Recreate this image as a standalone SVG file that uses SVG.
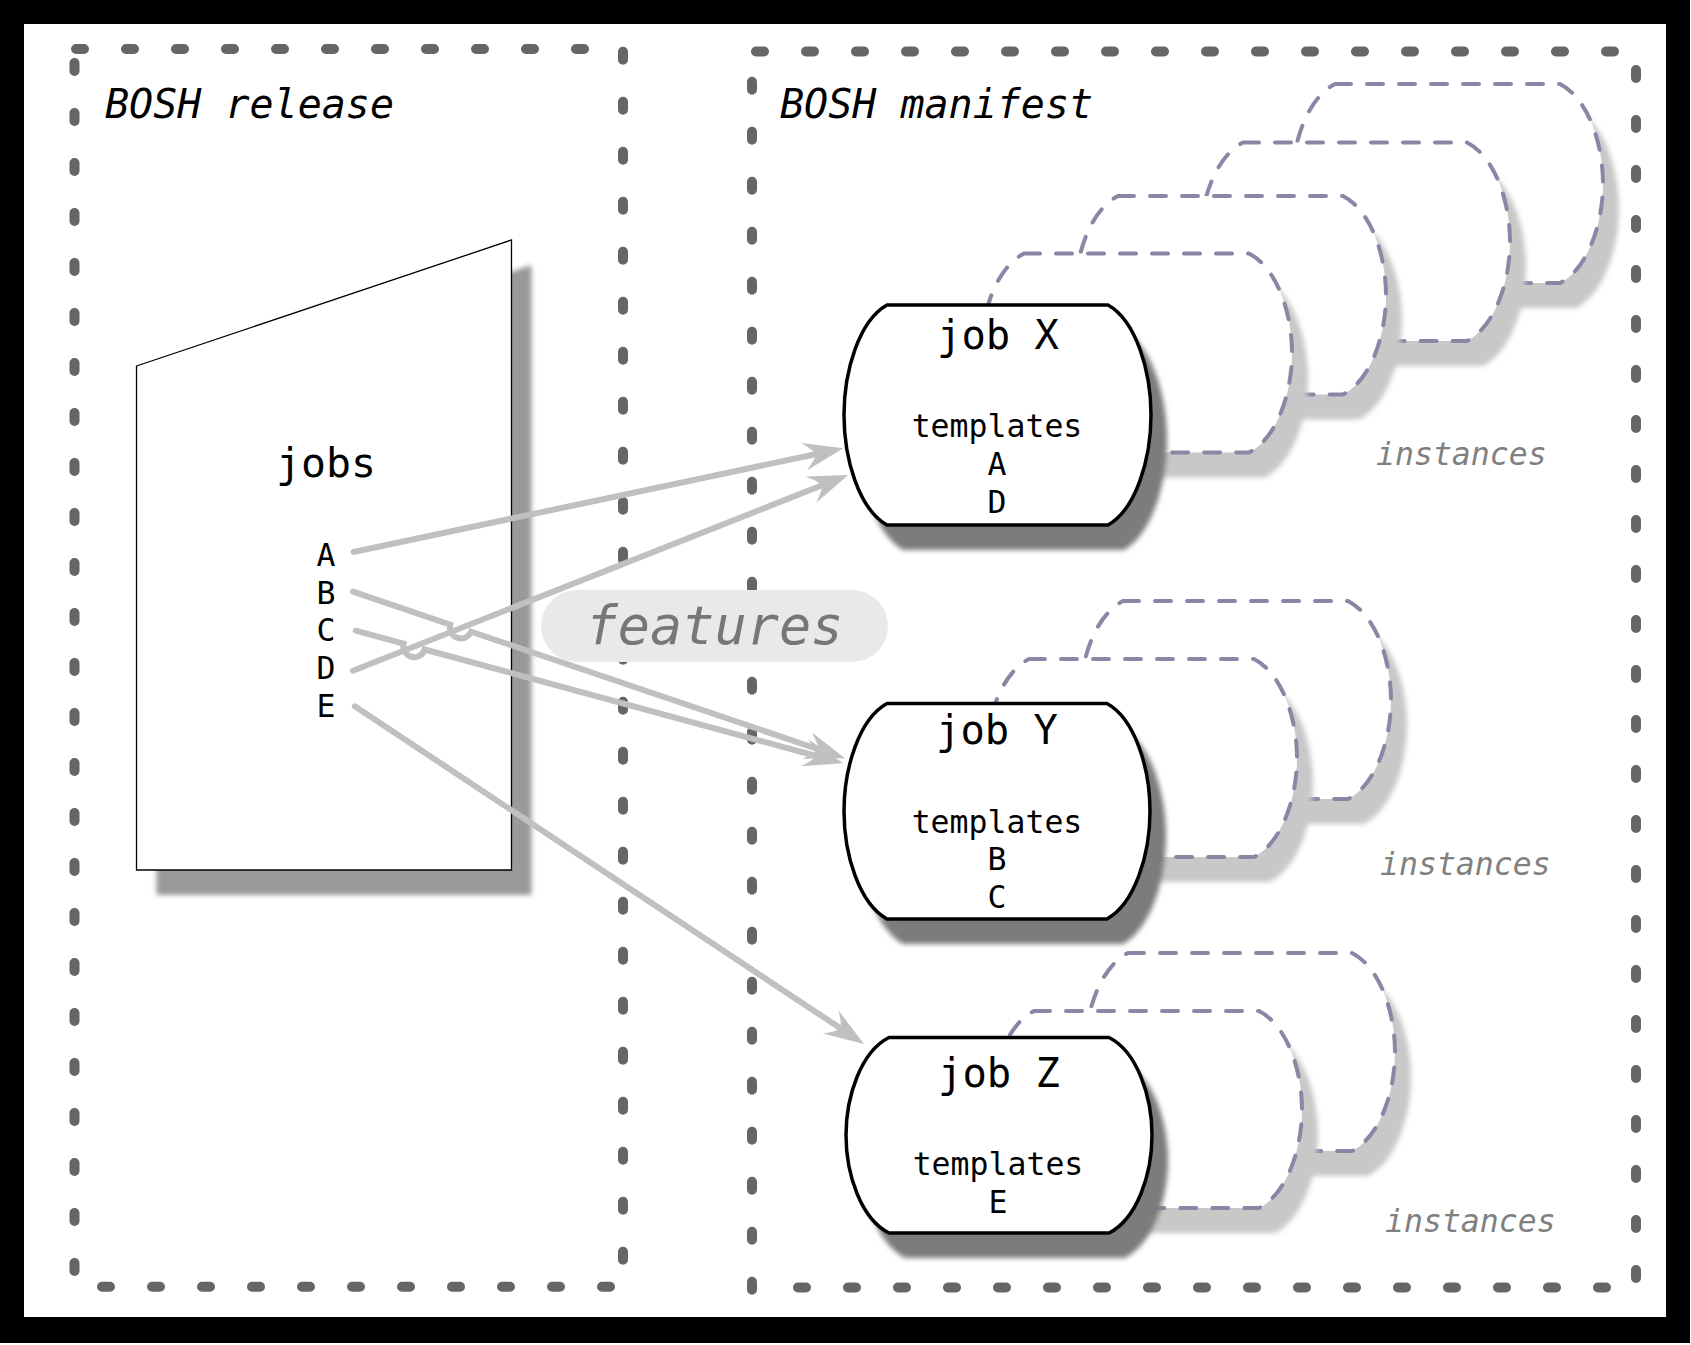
<svg xmlns="http://www.w3.org/2000/svg" xmlns:xlink="http://www.w3.org/1999/xlink" width="1691" height="1345" viewBox="0 0 1691 1345">
<style>
text{font-family:"DejaVu Sans Mono","Liberation Mono",monospace;}
.it{font-style:italic;}
.box{fill:none;stroke:#666666;stroke-width:10;stroke-linecap:round;stroke-dasharray:8 42;}
.inst{fill:#ffffff;stroke:#8888a6;stroke-width:4;stroke-dasharray:16 16;stroke-linecap:round;}
.ishadow{fill:#c8c8c8;filter:url(#blur);}
.jshadow{fill:#7c7c7c;filter:url(#blur);}
.job{fill:#ffffff;stroke:#000000;stroke-width:3.5;}
.jt{font-size:40.5px;text-anchor:middle;fill:#000;}
.tt{font-size:31.5px;text-anchor:middle;fill:#000;}
.lbl{font-size:31.5px;fill:#808080;}
.arrow{fill:none;stroke:#c0c0c0;stroke-width:6;stroke-linecap:round;marker-end:url(#head);}
</style>
<defs>
<filter id="blur" x="-10%" y="-10%" width="120%" height="120%"><feGaussianBlur stdDeviation="2.5"/></filter>
<marker id="head" markerUnits="userSpaceOnUse" viewBox="0 0 40 28" markerWidth="40" markerHeight="28" refX="14" refY="14" orient="auto">
<path d="M40,14 L0,0 Q10,9 12,14 Q10,19 0,28 Z" fill="#c0c0c0"/>
</marker>
<path id="sX" d="M887,305 H1108 C1136,320.8 1151,371 1151,415 C1151,459 1136,509.2 1108,525 H887 C859,509.2 844,459 844,415 C844,371 859,320.8 887,305 Z"/>
<path id="sY" d="M887,703.5 H1107 C1135,719 1150,768.2 1150,811.25 C1150,854.3 1135,903.5 1107,919 H887 C859,903.5 844,854.3 844,811.25 C844,768.2 859,719 887,703.5 Z"/>
<path id="sZ" d="M889,1037.5 H1109 C1137,1051.6 1152,1096.2 1152,1135.25 C1152,1174.3 1137,1218.9 1109,1233 H889 C861,1218.9 846,1174.3 846,1135.25 C846,1096.2 861,1051.6 889,1037.5 Z"/>
<path id="x1" d="M1024,253.5 H1249 C1277,267.8 1292,313.2 1292,353 C1292,392.8 1277,438.2 1249,452.5 H1024 C996,438.2 981,392.8 981,353 C981,313.2 996,267.8 1024,253.5 Z"/>
<path id="x2" d="M1118,196 H1343 C1371,210.3 1386,255.6 1386,295.25 C1386,334.9 1371,380.2 1343,394.5 H1118 C1090,380.2 1075,334.9 1075,295.25 C1075,255.6 1090,210.3 1118,196 Z"/>
<path id="x3" d="M1243,142.5 H1467 C1495,156.8 1510,202.1 1510,241.75 C1510,281.4 1495,326.7 1467,341 H1243 C1215,326.7 1200,281.4 1200,241.75 C1200,202.1 1215,156.8 1243,142.5 Z"/>
<path id="x4" d="M1335,84 H1560 C1588,98.3 1603,143.7 1603,183.5 C1603,223.3 1588,268.7 1560,283 H1335 C1307,268.7 1292,223.3 1292,183.5 C1292,143.7 1307,98.3 1335,84 Z"/>
<path id="y1" d="M1029,659 H1254 C1282,673.3 1297,718.4 1297,758 C1297,797.6 1282,842.7 1254,857 H1029 C1001,842.7 986,797.6 986,758 C986,718.4 1001,673.3 1029,659 Z"/>
<path id="y2" d="M1123,601 H1348 C1376,615.3 1391,660.4 1391,700 C1391,739.6 1376,784.7 1348,799 H1123 C1095,784.7 1080,739.6 1080,700 C1080,660.4 1095,615.3 1123,601 Z"/>
<path id="z1" d="M1034,1011 H1259 C1287,1025.2 1302,1070.1 1302,1109.5 C1302,1148.9 1287,1193.8 1259,1208 H1034 C1006,1193.8 991,1148.9 991,1109.5 C991,1070.1 1006,1025.2 1034,1011 Z"/>
<path id="z2" d="M1128,953 H1352 C1380,967.3 1395,1012.4 1395,1052 C1395,1091.6 1380,1136.7 1352,1151 H1128 C1100,1136.7 1085,1091.6 1085,1052 C1085,1012.4 1100,967.3 1128,953 Z"/>
</defs>

<rect x="0" y="0" width="1691" height="1345" fill="#ffffff"/>
<rect x="0" y="0" width="1690" height="1343" fill="#000000"/>
<rect x="24" y="24" width="1642" height="1293" fill="#ffffff"/>

<g id="release-box">
<path class="box" d="M76,49 H600"/>
<path class="box" d="M623,51.7 V1285"/>
<path class="box" d="M74.5,63 V1285"/>
<path class="box" d="M102,1286.7 H620"/>
<text class="it" x="105" y="118" font-size="40">BOSH release</text>
</g>

<g id="manifest-box">
<path class="box" d="M756,51.5 H1625"/>
<path class="box" d="M1636,70 V1290"/>
<path class="box" d="M752,81.7 V1295"/>
<path class="box" d="M798,1287.5 H1610"/>
<text class="it" x="780" y="118" font-size="40">BOSH manifest</text>
</g>

<g id="jobs">
<polygon points="156.5,391 531.5,265 531.5,895 156.5,895" fill="#999999" filter="url(#blur)"/>
<polygon points="136.5,366 511.5,240 511.5,870 136.5,870" fill="#ffffff" stroke="#000000" stroke-width="1.3"/>
<text x="326" y="477" font-size="41.5" text-anchor="middle">jobs</text>
<text class="tt" x="326" y="566">A</text>
<text class="tt" x="326" y="603.7">B</text>
<text class="tt" x="326" y="641.4">C</text>
<text class="tt" x="326" y="679.1">D</text>
<text class="tt" x="326" y="716.8">E</text>
</g>

<g id="instances-x">
<use xlink:href="#x4" href="#x4" class="ishadow" transform="translate(16,25)"/>
<use xlink:href="#x4" href="#x4" class="inst"/>
<use xlink:href="#x3" href="#x3" class="ishadow" transform="translate(16,25)"/>
<use xlink:href="#x3" href="#x3" class="inst"/>
<use xlink:href="#x2" href="#x2" class="ishadow" transform="translate(16,25)"/>
<use xlink:href="#x2" href="#x2" class="inst"/>
<use xlink:href="#x1" href="#x1" class="ishadow" transform="translate(16,25)"/>
<use xlink:href="#x1" href="#x1" class="inst"/>
<text class="lbl it" x="1376" y="465">instances</text>
</g>

<g id="job-x">
<use xlink:href="#sX" href="#sX" class="jshadow" transform="translate(16,25)"/>
<use xlink:href="#sX" href="#sX" class="job"/>
<text class="jt" x="998" y="349">job X</text>
<text class="tt" x="997" y="437">templates</text>
<text class="tt" x="997" y="475">A</text>
<text class="tt" x="997" y="512.5">D</text>
</g>

<g id="instances-y">
<use xlink:href="#y2" href="#y2" class="ishadow" transform="translate(16,25)"/>
<use xlink:href="#y2" href="#y2" class="inst"/>
<use xlink:href="#y1" href="#y1" class="ishadow" transform="translate(16,25)"/>
<use xlink:href="#y1" href="#y1" class="inst"/>
<text class="lbl it" x="1380" y="875">instances</text>
</g>

<g id="job-y">
<use xlink:href="#sY" href="#sY" class="jshadow" transform="translate(16,25)"/>
<use xlink:href="#sY" href="#sY" class="job"/>
<text class="jt" x="997" y="744">job Y</text>
<text class="tt" x="997" y="832.5">templates</text>
<text class="tt" x="997" y="870">B</text>
<text class="tt" x="997" y="908">C</text>
</g>

<g id="instances-z">
<use xlink:href="#z2" href="#z2" class="ishadow" transform="translate(16,25)"/>
<use xlink:href="#z2" href="#z2" class="inst"/>
<use xlink:href="#z1" href="#z1" class="ishadow" transform="translate(16,25)"/>
<use xlink:href="#z1" href="#z1" class="inst"/>
<text class="lbl it" x="1385" y="1231.5">instances</text>
</g>

<g id="job-z">
<use xlink:href="#sZ" href="#sZ" class="jshadow" transform="translate(16,25)"/>
<use xlink:href="#sZ" href="#sZ" class="job"/>
<text class="jt" x="999" y="1087">job Z</text>
<text class="tt" x="998" y="1175">templates</text>
<text class="tt" x="998" y="1213">E</text>
</g>

<g id="features">
<rect x="541" y="590" width="347" height="72" rx="36" ry="36" fill="#e9e9e9"/>
<text class="it" x="714.5" y="643.5" font-size="53.5" text-anchor="middle" fill="#777777">features</text>
</g>

<g id="connectors">
<path class="arrow" d="M353.5,552 L817.9,453.7"/>
<path class="arrow" d="M353,670.7 L824.1,484.5"/>
<path class="arrow" d="M353,591.7 L450.3,624.7 A11,11 0 0 0 471.1,631.7 L820.4,750"/>
<path class="arrow" d="M355.7,630.7 L403.5,643.7 A11,11 0 0 0 424.7,649.5 L818.1,756.5"/>
<path class="arrow" d="M354.8,706.3 L842.3,1029.6"/>
</g>
</svg>
